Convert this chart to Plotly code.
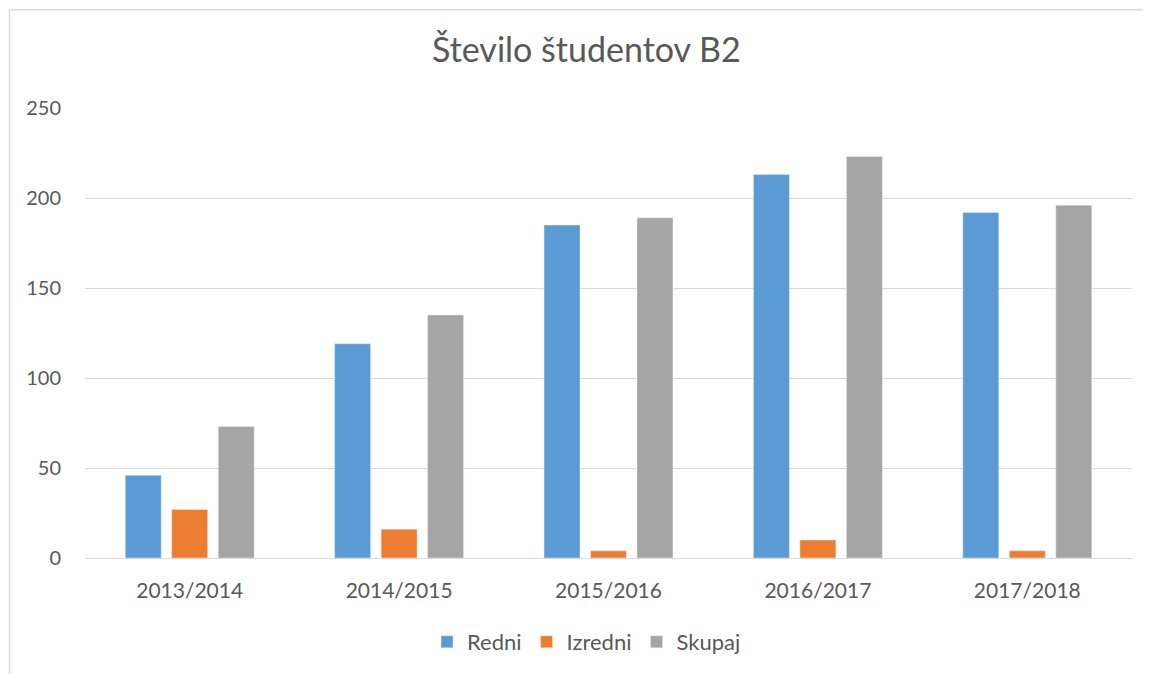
import plotly.graph_objects as go

categories = ["2013/2014", "2014/2015", "2015/2016", "2016/2017", "2017/2018"]
redni = [46, 119, 185, 213, 192]
izredni = [27, 16, 4, 10, 4]
skupaj = [73, 135, 189, 223, 196]
y_ticks = [0, 50, 100, 150, 200, 250]

font_family = "Lato, 'Open Sans', sans-serif"
text_color = "#595959"

fig = go.Figure()
fig.add_trace(go.Bar(name="Redni", x=categories, y=redni, marker_color="#5B9BD5"))
fig.add_trace(go.Bar(name="Izredni", x=categories, y=izredni, marker_color="#ED7D31"))
fig.add_trace(go.Bar(name="Skupaj", x=categories, y=skupaj, marker_color="#A5A5A5"))

OFF = 8  # page body margin
W, H = 1151 - OFF, 674 - OFF
L, T = 85 - OFF, 108 - OFF
R = W - (1132 - OFF)
B = H - (559 - OFF)
pw, ph = W - L - R, H - T - B

def px_x(p):
    return (p - OFF - L) / pw

def px_y(p):
    return (559 - p) / ph

fig.update_layout(
    width=W, height=H,
    margin=dict(l=L, r=R, t=T, b=B),
    paper_bgcolor="white", plot_bgcolor="white",
    barmode="group", bargap=0.334, bargroupgap=0.226,
    title=dict(text="Število študentov B2", x=0.506, xanchor="center",
               y=1 - (50 - OFF) / H, yanchor="middle",
               font=dict(family=font_family, size=34, color=text_color)),
    font=dict(family=font_family, size=20, color=text_color),
    xaxis=dict(showgrid=False, showline=True, linecolor="#D9D9D9", linewidth=1,
               ticks="outside", ticklen=14, tickcolor="rgba(0,0,0,0)",
               tickfont=dict(size=21, color=text_color)),
    yaxis=dict(range=[0, 250], tickvals=y_ticks, showgrid=True, gridcolor="#D9D9D9",
               gridwidth=1, zeroline=False, showline=False,
               ticks="outside", ticklen=19, tickcolor="rgba(0,0,0,0)",
               tickfont=dict(size=20, color=text_color)),
    legend=dict(orientation="h", x=0.5 - 22 / pw, xanchor="center", y=px_y(642), yanchor="middle",
                font=dict(size=22, color=text_color), itemwidth=30,
                traceorder="normal"),
    shapes=[
        dict(type="line", xref="paper", yref="paper",
             x0=px_x(9.5), x1=px_x(9.5), y0=px_y(700), y1=px_y(9.5),
             line=dict(color="#D9D9D9", width=1.5)),
        dict(type="line", xref="paper", yref="paper",
             x0=px_x(9.5), x1=px_x(1152), y0=px_y(9.5), y1=px_y(9.5),
             line=dict(color="#D9D9D9", width=1.5)),
    ],
)

fig.write_html("out.html")
